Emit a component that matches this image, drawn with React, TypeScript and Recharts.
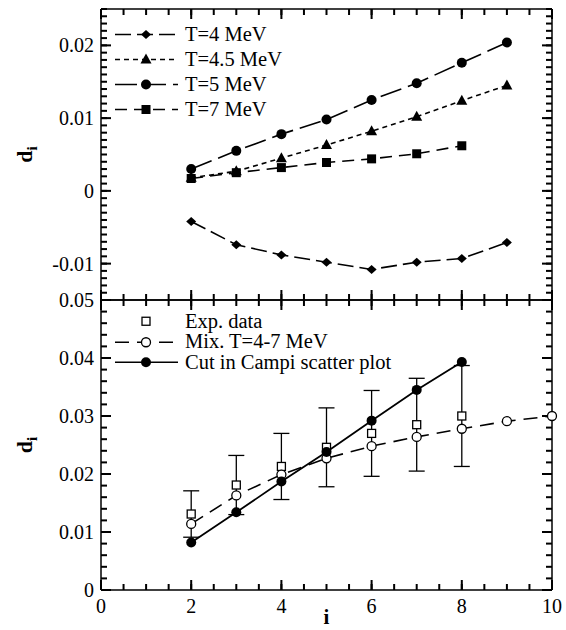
import React from "react";
import { ComposedChart, Line, Scatter, XAxis, YAxis, ErrorBar, Legend } from "recharts";

// top panel: d_i at fixed temperature
const iTop = [2, 3, 4, 5, 6, 7, 8, 9];
const dT4 = [-0.0042, -0.0074, -0.0088, -0.0098, -0.0108, -0.0098, -0.0093, -0.0071];
const dT45 = [0.0018, 0.0027, 0.0045, 0.0063, 0.0082, 0.0102, 0.0124, 0.0145];
const dT5 = [0.003, 0.0055, 0.0078, 0.0098, 0.0125, 0.0148, 0.0176, 0.0204];
const iT7 = [2, 3, 4, 5, 6, 7, 8];
const dT7 = [0.0017, 0.0025, 0.0032, 0.0039, 0.0044, 0.0051, 0.0062];

// bottom panel
const iExp = [2, 3, 4, 5, 6, 7, 8];
const dExp = [0.0131, 0.0181, 0.0213, 0.0246, 0.027, 0.0285, 0.03];
const errExp = [0.004, 0.0051, 0.0057, 0.0068, 0.0074, 0.008, 0.0087];
const iMix = [2, 3, 4, 5, 6, 7, 8, 9, 10];
const dMix = [0.0114, 0.0163, 0.0199, 0.0227, 0.0248, 0.0264, 0.0278, 0.0291, 0.03];
const iCut = [2, 3, 4, 5, 6, 7, 8];
const dCut = [0.0082, 0.0134, 0.0187, 0.0238, 0.0292, 0.0345, 0.0393];

const xMajor = [0, 2, 4, 6, 8, 10];
const xMinor = Array.from({ length: 21 }, (_, k) => k / 2);
const topDomain = [-0.015, 0.025];
const topMajor = [-0.01, 0, 0.01, 0.02];
const topMinor = Array.from({ length: 41 }, (_, k) => (k - 15) / 1000);
const botDomain = [0, 0.05];
const botMajor = [0, 0.01, 0.02, 0.03, 0.04, 0.05];
const botMinor = Array.from({ length: 26 }, (_, k) => (2 * k) / 1000);

const FONT = "'Liberation Serif', 'Times New Roman', serif";
const INK = "#000";

const zip = (xs: number[], ys: number[], es?: number[]) =>
  xs.map((i, k) => ({ i, d: ys[k], err: es ? es[k] : 0 }));

const fmt = (v: number) => String(Number(v.toFixed(3)));

type Side = "left" | "right" | "top" | "bottom";
type TickSet = { key: string; data: { i: number; d: number }[]; side: Side; len: number };

const at = (xs: number[], ys: number[]) => xs.flatMap((i) => ys.map((d) => ({ i, d })));

function tickSets(yDomain: number[], yMajor: number[], yMinor: number[]): TickSet[] {
  return [
    { key: "lM", data: at([0], yMajor), side: "left", len: 10 },
    { key: "lm", data: at([0], yMinor), side: "left", len: 6 },
    { key: "rM", data: at([10], yMajor), side: "right", len: 10 },
    { key: "rm", data: at([10], yMinor), side: "right", len: 6 },
    { key: "bM", data: at(xMajor, [yDomain[0]]), side: "bottom", len: 10 },
    { key: "bm", data: at(xMinor, [yDomain[0]]), side: "bottom", len: 6 },
    { key: "tM", data: at(xMajor, [yDomain[1]]), side: "top", len: 10 },
    { key: "tm", data: at(xMinor, [yDomain[1]]), side: "top", len: 6 },
  ];
}

const topTicks = tickSets(topDomain, topMajor, topMinor);
const botTicks = tickSets(botDomain, botMajor, botMinor);

// inward tick mark as a thin rect at a scale-placed point
const tickShape = (side: Side, len: number) => (p: any) => {
  const cx = Number(p.cx);
  const cy = Number(p.cy);
  if (!isFinite(cx) || !isFinite(cy)) return <g />;
  const w = 2;
  if (side === "left") return <rect x={cx} y={cy - w / 2} width={len} height={w} fill={INK} />;
  if (side === "right") return <rect x={cx - len} y={cy - w / 2} width={len} height={w} fill={INK} />;
  if (side === "bottom") return <rect x={cx - w / 2} y={cy - len} width={w} height={len} fill={INK} />;
  return <rect x={cx - w / 2} y={cy} width={w} height={len} fill={INK} />;
};

type Shape = "diamond" | "triangle" | "circle" | "square" | "openSquare" | "openCircle";

function Marker({ shape, cx, cy }: { shape: Shape; cx: number; cy: number }) {
  if (cx == null || cy == null) return null;
  switch (shape) {
    case "diamond":
      return <polygon points={`${cx},${cy - 4.5} ${cx + 5},${cy} ${cx},${cy + 4.5} ${cx - 5},${cy}`} fill={INK} />;
    case "triangle":
      return <polygon points={`${cx},${cy - 6} ${cx + 5.5},${cy + 4} ${cx - 5.5},${cy + 4}`} fill={INK} />;
    case "circle":
      return <circle cx={cx} cy={cy} r={5} fill={INK} />;
    case "square":
      return <rect x={cx - 4.5} y={cy - 4.5} width={9} height={9} fill={INK} />;
    case "openSquare":
      return <rect x={cx - 4} y={cy - 4} width={8} height={8} fill="#fff" stroke={INK} strokeWidth={1.3} />;
    case "openCircle":
      return <circle cx={cx} cy={cy} r={4.5} fill="#fff" stroke={INK} strokeWidth={1.3} />;
  }
  return null;
}

const dotOf = (shape: Shape) => (p: any) => <Marker key={p.index} shape={shape} cx={p.cx} cy={p.cy} />;

function labelTick(side: "left" | "bottom") {
  return (props: any) => {
    const x = Number(props.x);
    const y = Number(props.y);
    const v = props.payload.value;
    return side === "left" ? (
      <text x={x - 7} y={y} dy="0.35em" textAnchor="end" fontFamily={FONT} fontSize={20} fill={INK}>{fmt(v)}</text>
    ) : (
      <text x={x} y={y + 23} textAnchor="middle" fontFamily={FONT} fontSize={20} fill={INK}>{fmt(v)}</text>
    );
  };
}

function DLabel(props: any) {
  const vb = props.viewBox || {};
  const cy = vb.y + vb.height / 2;
  return (
    <text transform={`translate(32, ${cy}) rotate(-90)`} textAnchor="middle" fontFamily={FONT} fontSize={22} fontWeight="bold" fill={INK}>
      d<tspan dy={5} fontSize={15}>i</tspan>
    </text>
  );
}

function ILabel(props: any) {
  const vb = props.viewBox || {};
  return (
    <text x={vb.x + vb.width / 2} y={334} textAnchor="middle" fontFamily={FONT} fontSize={21} fontWeight="bold" fill={INK}>
      i
    </text>
  );
}

type Entry = { name: string; shape: Shape; dash?: string; line: boolean };

const topEntries: Entry[] = [
  { name: "T=4 MeV", shape: "diamond", dash: "16 6", line: true },
  { name: "T=4.5 MeV", shape: "triangle", dash: "5 4", line: true },
  { name: "T=5 MeV", shape: "circle", dash: "22 7", line: true },
  { name: "T=7 MeV", shape: "square", dash: "12 7", line: true },
];
const botEntries: Entry[] = [
  { name: "Exp. data", shape: "openSquare", line: false },
  { name: "Mix. T=4-7 MeV", shape: "openCircle", dash: "14 8", line: true },
  { name: "Cut in Campi scatter plot", shape: "circle", line: true },
];

function legendOf(entries: Entry[], rowH: number) {
  return () => (
    <div style={{ fontFamily: FONT, fontSize: 20.5, color: INK }}>
      {entries.map((e) => (
        <div key={e.name} style={{ display: "flex", alignItems: "center", height: rowH, whiteSpace: "nowrap" }}>
          <svg width={68} height={rowH} style={{ display: "block" }}>
            {e.line && (
              <line x1={5} y1={rowH / 2} x2={68} y2={rowH / 2} stroke={INK} strokeWidth={1.6} strokeDasharray={e.dash} />
            )}
            <Marker shape={e.shape} cx={36} cy={rowH / 2} />
          </svg>
          <span style={{ marginLeft: 7 }}>{e.name}</span>
        </div>
      ))}
    </div>
  );
}

const frame = { stroke: INK, strokeWidth: 1.5 };
const common = { type: "number" as const, interval: 0, tickSize: 0, tickMargin: 0, tickLine: false, axisLine: frame };

export default function App() {
  return (
    <div style={{ position: "absolute", left: 0, top: 0, width: 566, height: 630, background: "#fff" }}>
      <div style={{ position: "absolute", left: 0, top: 0 }}>
        <ComposedChart width={566} height={310} margin={{ top: 8, right: 13, bottom: 9, left: 100 }}>
          <XAxis xAxisId="b" dataKey="i" domain={[0, 10]} ticks={xMajor} height={1} {...common} tick={false} />
          <XAxis xAxisId="t" orientation="top" domain={[0, 10]} ticks={xMajor} height={1} {...common} tick={false} />
          <YAxis yAxisId="l" domain={topDomain} ticks={topMajor} width={1} {...common}
            tick={labelTick("left")} label={<DLabel />} />
          <YAxis yAxisId="r" orientation="right" domain={topDomain} ticks={topMajor} width={1} {...common} tick={false} />
          <Line xAxisId="b" yAxisId="l" data={zip(iTop, dT4)} dataKey="d" stroke={INK} strokeWidth={1.6}
            strokeDasharray="16 6" dot={dotOf("diamond")} isAnimationActive={false} />
          <Line xAxisId="b" yAxisId="l" data={zip(iTop, dT45)} dataKey="d" stroke={INK} strokeWidth={1.6}
            strokeDasharray="5 4" dot={dotOf("triangle")} isAnimationActive={false} />
          <Line xAxisId="b" yAxisId="l" data={zip(iTop, dT5)} dataKey="d" stroke={INK} strokeWidth={1.6}
            strokeDasharray="22 7" dot={dotOf("circle")} isAnimationActive={false} />
          <Line xAxisId="b" yAxisId="l" data={zip(iT7, dT7)} dataKey="d" stroke={INK} strokeWidth={1.6}
            strokeDasharray="12 7" dot={dotOf("square")} isAnimationActive={false} />
          {topTicks.map((t) => (
            <Scatter key={t.key} name={t.key} xAxisId="b" yAxisId="l" data={t.data} dataKey="d"
              shape={tickShape(t.side, t.len)} isAnimationActive={false} />
          ))}
          <Legend layout="vertical" align="center" verticalAlign="middle" content={legendOf(topEntries, 25)}
            wrapperStyle={{ left: 110, top: 22, width: 300, height: 100 }} />
        </ComposedChart>
      </div>
      <div style={{ position: "absolute", left: 0, top: 290 }}>
        <ComposedChart width={566} height={340} margin={{ top: 9, right: 13, bottom: 0, left: 100 }}>
          <XAxis xAxisId="b" dataKey="i" domain={[0, 10]} ticks={xMajor} height={40} {...common}
            tick={labelTick("bottom")} label={<ILabel />} />
          <XAxis xAxisId="t" orientation="top" domain={[0, 10]} ticks={xMajor} height={1} {...common} tick={false} />
          <YAxis yAxisId="l" domain={botDomain} ticks={botMajor} width={1} {...common}
            tick={labelTick("left")} label={<DLabel />} />
          <YAxis yAxisId="r" orientation="right" domain={botDomain} ticks={botMajor} width={1} {...common} tick={false} />
          <Line xAxisId="b" yAxisId="l" data={zip(iMix, dMix)} dataKey="d" stroke={INK} strokeWidth={1.6}
            strokeDasharray="14 8" dot={dotOf("openCircle")} isAnimationActive={false} />
          <Line xAxisId="b" yAxisId="l" data={zip(iCut, dCut)} dataKey="d" stroke={INK} strokeWidth={1.8}
            dot={dotOf("circle")} isAnimationActive={false} />
          <Scatter xAxisId="b" yAxisId="l" data={zip(iExp, dExp, errExp)} dataKey="d"
            shape={(p: any) => <Marker shape="openSquare" cx={p.cx} cy={p.cy} />} isAnimationActive={false}>
            <ErrorBar dataKey="err" direction="y" width={8} stroke={INK} strokeWidth={1.3} isAnimationActive={false} />
          </Scatter>
          {botTicks.map((t) => (
            <Scatter key={t.key} name={t.key} xAxisId="b" yAxisId="l" data={t.data} dataKey="d"
              shape={tickShape(t.side, t.len)} isAnimationActive={false} />
          ))}
          <Legend layout="vertical" align="center" verticalAlign="middle" content={legendOf(botEntries, 20.5)}
            wrapperStyle={{ left: 110, top: 21, width: 320, height: 70 }} />
        </ComposedChart>
      </div>
    </div>
  );
}
